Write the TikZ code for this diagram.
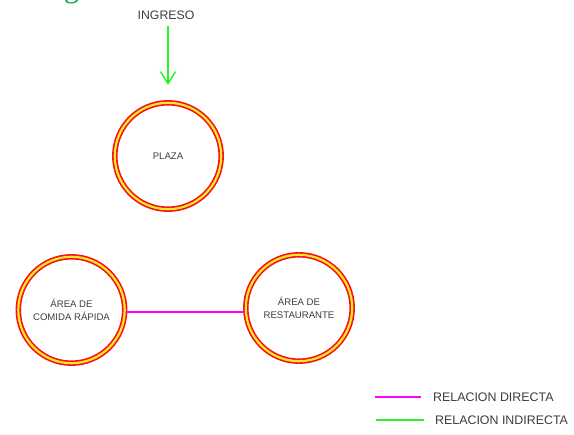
\documentclass[tikz,border=0pt]{standalone}
\usepackage{fontspec}
\setmainfont{Liberation Sans}
\newfontfamily\serifg{Liberation Serif}
\usetikzlibrary{arrows.meta}
\definecolor{ringred}{RGB}{245,20,20}
\definecolor{ringyel}{RGB}{255,230,40}
\definecolor{pinkline}{RGB}{255,0,255}
\definecolor{greenline}{RGB}{40,245,40}
\definecolor{txtgray}{RGB}{60,60,60}
\definecolor{titlegreen}{RGB}{0,170,80}
\tikzset{
  zone/.style={circle, minimum size=108pt, inner sep=0pt, text=txtgray,
    font=\fontsize{9.6}{12.5}\selectfont, align=center},
  lbl/.style={text=txtgray, inner sep=0pt},
  direct/.style={draw=pinkline, line width=1.4pt},
  indirect/.style={draw=greenline, line width=1.5pt},
}
\newcommand{\ringat}[1]{%
  \draw[ringred, line width=5.5pt] (#1) circle (53.2);
  \draw[ringyel, line width=2.2pt] (#1) circle (53.2);}
\begin{document}
\begin{tikzpicture}[x=1pt,y=-1pt]
\useasboundingbox (0,0) rectangle (574,435);
\begin{scope}
\clip (0,0) rectangle (574,435);
\node[anchor=base west, inner sep=0pt, text=titlegreen, font=\serifg\fontsize{30}{30}\selectfont] (ttl) at (64,-2.2) {g};
\end{scope}
% nodes
\node[lbl, font=\fontsize{12.3}{14}\selectfont] (ing) at (166,15.5) {INGRESO};
\coordinate (ingtail) at (168,26);
\node[zone] (plaza) at (168,156) {PLAZA};
\node[zone] (comida) at (71.5,310) {ÁREA DE\\COMIDA RÁPIDA};
\node[zone] (rest) at (299,308) {ÁREA DE\\RESTAURANTE};
\ringat{plaza}
\ringat{comida}
\ringat{rest}
% connectors
\draw[indirect, -{Straight Barb[length=12pt,width=15pt,line width=1.5pt]}] (ingtail) -- (168,85);
\draw[direct] ([yshift=-2pt]comida.east) -- ([yshift=-4pt]rest.west);
% legend
\coordinate (l1a) at (375,397);
\coordinate (l1b) at (421,397);
\coordinate (l2a) at (376,420);
\coordinate (l2b) at (424,420);
\draw[direct] (l1a) -- (l1b);
\draw[indirect] (l2a) -- (l2b);
\node[lbl, anchor=west, font=\fontsize{12.4}{14}\selectfont] (t1) at (433,397) {RELACION DIRECTA};
\node[lbl, anchor=west, font=\fontsize{12.4}{14}\selectfont] (t2) at (435,420) {RELACION INDIRECTA};
\end{tikzpicture}
\end{document}
